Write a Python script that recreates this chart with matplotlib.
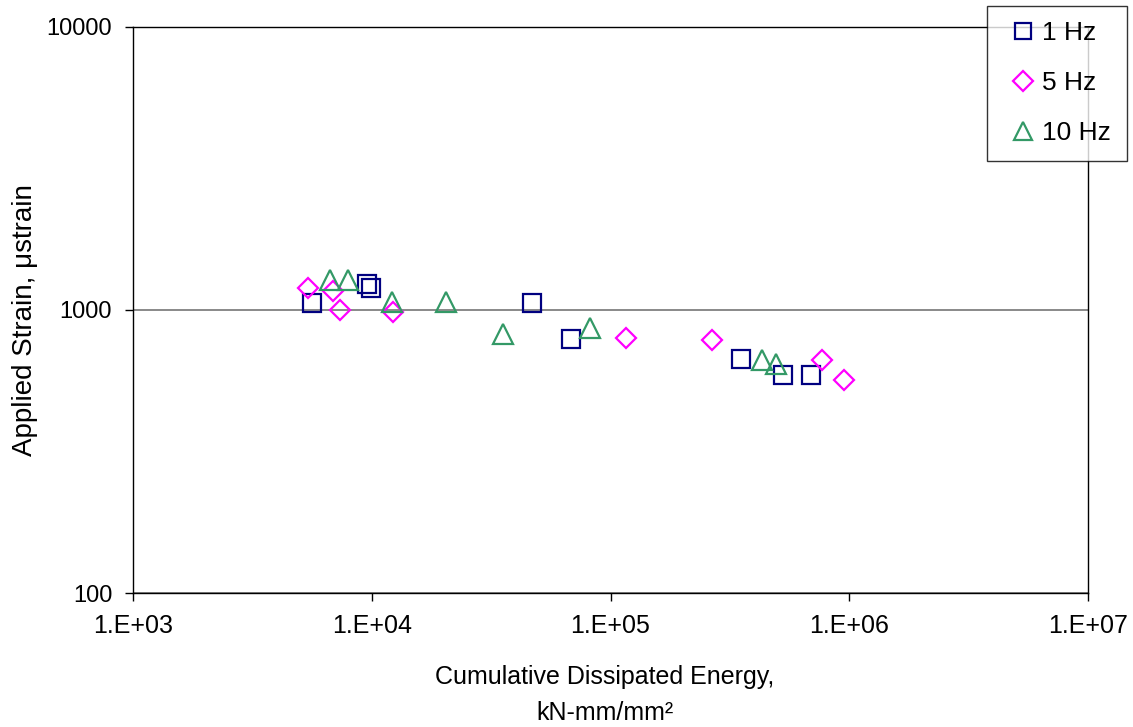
import matplotlib
matplotlib.use("Agg")
import matplotlib.pyplot as plt
from matplotlib.ticker import NullLocator

plt.rcParams['font.family'] = ['Liberation Sans', 'DejaVu Sans']

# Data
hz1_energy = [5.64e3, 9.53e3, 9.9e3, 4.7e4, 6.81e4, 3.51e5, 5.26e5, 6.9e5]
hz1_strain = [1061, 1233, 1193, 1061, 792, 671, 589, 589]

hz5_energy = [5.41e3, 6.9e3, 7.36e3, 1.23e4, 1.158e5, 2.65e5, 7.69e5, 9.48e5]
hz5_strain = [1197, 1170, 1000, 986, 798, 783, 666, 566]

hz10_energy = [6.69e3, 7.93e3, 1.212e4, 2.04e4, 3.56e4, 8.2e4, 4.3e5, 4.92e5]
hz10_strain = [1280, 1280, 1069, 1067, 825, 861, 666, 646]

series_labels = ["1 Hz", "5 Hz", "10 Hz"]
x_ticks = [1e3, 1e4, 1e5, 1e6, 1e7]
x_tick_labels = ["1.E+03", "1.E+04", "1.E+05", "1.E+06", "1.E+07"]
y_ticks = [100, 1000, 10000]
y_tick_labels = ["100", "1000", "10000"]

W, H = 1133, 727
fig = plt.figure(figsize=(W / 100, H / 100), dpi=100)
ax = fig.add_axes([133 / W, 1 - 593 / H, (1088 - 133) / W, (593 - 27) / H])

ax.set_xscale('log')
ax.set_yscale('log')
ax.set_xlim(1e3, 1e7)
ax.set_ylim(100, 10000)

ax.plot(hz1_energy, hz1_strain, linestyle='none', marker='s', ms=12.5, mew=1.6,
        mfc='none', mec='#000080', label=series_labels[0], zorder=3)
ax.plot(hz5_energy, hz5_strain, linestyle='none', marker='D', ms=10.5, mew=1.6,
        mfc='none', mec='#FF00FF', label=series_labels[1], zorder=3)
ax.plot(hz10_energy, hz10_strain, linestyle='none', marker='^', ms=14, mew=1.6,
        mfc='none', mec='#339966', label=series_labels[2], zorder=3)

ax.set_xticks(x_ticks)
ax.set_xticklabels(x_tick_labels)
ax.set_yticks(y_ticks)
ax.set_yticklabels(y_tick_labels)
ax.xaxis.set_minor_locator(NullLocator())
ax.yaxis.set_minor_locator(NullLocator())

ax.tick_params(axis='x', direction='out', length=6, width=1, labelsize=18, pad=9, color='black')
ax.tick_params(axis='y', direction='out', length=6, width=1, labelsize=17, pad=9, color='black')

ax.yaxis.grid(True, which='major', color='#808080', linewidth=1.3)
ax.set_axisbelow(True)
for s in ax.spines.values():
    s.set_color('black')
    s.set_linewidth(1.0)

fig.text(605 / W, 1 - 695 / H, "Cumulative Dissipated Energy,\nkN-mm/mm²",
         ha='center', va='center', fontsize=18, linespacing=1.65, multialignment='center')
fig.text(25 / W, 1 - 320 / H, "Applied Strain, μstrain", rotation=90,
         ha='center', va='center', fontsize=20)

leg = fig.legend(loc='upper left', bbox_to_anchor=(987 / W, 1 - 5.5 / H),
                 frameon=True, fancybox=False, fontsize=19, markerscale=0.95,
                 handlelength=1.5, handletextpad=0.0, labelspacing=0.98,
                 borderpad=0.6, borderaxespad=0)
leg.get_frame().set_edgecolor('black')
leg.get_frame().set_linewidth(1.0)
leg.set_zorder(10)

fig.savefig("out.png", dpi=100)
